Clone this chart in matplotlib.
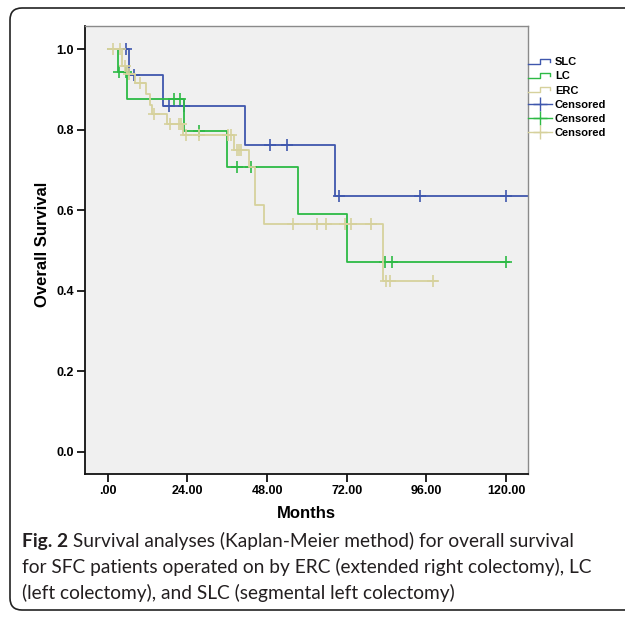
import numpy as np
import matplotlib.pyplot as plt
from matplotlib.lines import Line2D
from matplotlib.legend_handler import HandlerBase
from matplotlib.path import Path
from matplotlib.patches import PathPatch

# --- Kaplan-Meier curves (months, survival) ---
slc_times = [0, 6.4, 16.7, 41.4, 68.5]
slc_surv = [1.0, 0.937, 0.859, 0.763, 0.636]
slc_end = 130
slc_censored = [5.4, 8.0, 18.5, 23.1, 48.9, 54.0, 69.8, 94.2, 120.1]

lc_times = [0, 3.2, 5.9, 23.1, 36.0, 57.2, 72.0]
lc_surv = [1.0, 0.943, 0.877, 0.797, 0.709, 0.590, 0.472]
lc_end = 121
lc_censored = [3.5, 5.4, 20.0, 21.9, 27.4, 38.9, 43.2, 83.4, 85.5, 120.1]

erc_times = [0, 4.2, 5.8, 8.2, 11.5, 12.6, 13.3, 18.0, 22.8, 38.0, 42.7, 44.4, 47.2, 83.0]
erc_surv = [1.0, 0.959, 0.940, 0.916, 0.889, 0.863, 0.840, 0.815, 0.788, 0.750,
            0.709, 0.614, 0.566, 0.425]
erc_end = 99.2
erc_censored = [1.5, 3.7, 5.1, 6.5, 9.8, 13.8, 18.7, 21.4, 22.0, 23.6, 27.4, 36.1,
                37.2, 38.9, 39.6, 40.3, 55.8, 63.0, 65.8, 71.6, 73.3, 79.4, 83.9,
                84.9, 98.1]

x_ticks = [0, 24, 48, 72, 96, 120]
x_tick_labels = ['.00', '24.00', '48.00', '72.00', '96.00', '120.00']
y_ticks = [0.0, 0.2, 0.4, 0.6, 0.8, 1.0]
y_tick_labels = ['0.0', '0.2', '0.4', '0.6', '0.8', '1.0']

groups = ['SLC', 'LC', 'ERC']
colors = ['#3f57ad', '#2dba45', '#d6d19c']

caption_bold = 'Fig. 2'
caption_lines = [
    ' Survival analyses (Kaplan-Meier method) for overall survival',
    'for SFC patients operated on by ERC (extended right colectomy), LC',
    '(left colectomy), and SLC (segmental left colectomy)',
]

W, H = 625, 618


def surv_at(times, surv, t):
    idx = np.searchsorted(times, t, side='right') - 1
    return np.asarray(surv)[idx]


class StepHandler(HandlerBase):
    # little staircase icon used by SPSS for the survival lines
    def create_artists(self, legend, orig_handle, xdescent, ydescent,
                       width, height, fontsize, trans):
        x0 = -xdescent
        lo = -ydescent + height * 0.2
        hi = -ydescent + height * 0.85
        xs = [x0, x0 + width * 0.5, x0 + width * 0.5, x0 + width * 0.92, x0 + width * 0.92]
        ys = [lo, lo, hi, hi, lo + (hi - lo) * 0.35]
        line = Line2D(xs, ys, color=orig_handle.get_color(), lw=1.0, transform=trans)
        return [line]


plt.rcParams['font.family'] = ['Liberation Sans', 'DejaVu Sans']

fig = plt.figure(figsize=(W / 100, H / 100), dpi=100, facecolor='white')

# background layer in pixel coordinates for the frame and caption
bg = fig.add_axes([0, 0, 1, 1], zorder=-1)
bg.set_xlim(0, W)
bg.set_ylim(H, 0)
bg.axis('off')

r = 12
left, top, bottom = 10, 8, 610
verts = [(W + 5, top), (left + r, top), (left, top), (left, top + r),
         (left, bottom - r), (left, bottom), (left + r, bottom), (W + 5, bottom)]
codes = [Path.MOVETO, Path.LINETO, Path.CURVE3, Path.CURVE3,
         Path.LINETO, Path.CURVE3, Path.CURVE3, Path.LINETO]
bg.add_patch(PathPatch(Path(verts, codes), facecolor='none', edgecolor='#222222', lw=1.2))

cap_font = 'Lato'
cap_size = 13.8
t_bold = bg.text(22, 541, caption_bold, fontsize=cap_size, fontweight='bold',
                 family=cap_font, va='center', ha='left', color='#231f20')
fig.canvas.draw()
bb = t_bold.get_window_extent()
bold_w = bb.width
bg.text(22 + bold_w, 541, caption_lines[0], fontsize=cap_size, family=cap_font,
        va='center', ha='left', color='#231f20')
bg.text(22, 567, caption_lines[1], fontsize=cap_size, family=cap_font,
        va='center', ha='left', color='#231f20')
bg.text(22, 593, caption_lines[2], fontsize=cap_size, family=cap_font,
        va='center', ha='left', color='#231f20')

# --- main survival plot ---
ax = fig.add_axes([85.3 / W, 1 - 474 / H, (528.3 - 85.3) / W, (474 - 25.7) / H])
ax.set_facecolor('#f0f0f0')

curves = [
    (slc_times, slc_surv, slc_end, slc_censored),
    (lc_times, lc_surv, lc_end, lc_censored),
    (erc_times, erc_surv, erc_end, erc_censored),
]
line_handles = []
cens_handles = []
for (times, surv, end, cens), name, col in zip(curves, groups, colors):
    xs = list(times) + [end]
    ys = list(surv) + [surv[-1]]
    ln, = ax.step(xs, ys, where='post', color=col, lw=1.3, label=name)
    cy = surv_at(times, surv, cens)
    ax.plot(cens, cy, linestyle='none', marker='+', ms=9, mew=1.2, color=col)
    line_handles.append(ln)
    cens_handles.append(Line2D([], [], color=col, lw=1.0, marker='+', ms=10, mew=1.0))

ax.set_xlim(-6.75, 126.7)
ax.set_ylim(-0.055, 1.059)
ax.set_xticks(x_ticks)
ax.set_xticklabels(x_tick_labels)
ax.set_yticks(y_ticks)
ax.set_yticklabels(y_tick_labels)
ax.tick_params(axis='both', direction='out', length=6, width=1.2, labelsize=9, pad=2)
for lab in ax.get_xticklabels() + ax.get_yticklabels():
    lab.set_fontweight('bold')

for side in ['left', 'bottom']:
    ax.spines[side].set_color('#111111')
    ax.spines[side].set_linewidth(1.3)
for side in ['top', 'right']:
    ax.spines[side].set_color('#8a8a8a')
    ax.spines[side].set_linewidth(1.0)

ax.set_xlabel('Months', fontsize=12, fontweight='bold')
ax.xaxis.set_label_coords(0.5, -0.089)
ax.xaxis.label.set_va('center')
ax.set_ylabel('Overall Survival', fontsize=12, fontweight='bold')
ax.yaxis.set_label_coords(-0.097, 0.513)
ax.yaxis.label.set_va('center')

handles = line_handles + cens_handles
labels = groups + ['Censored'] * 3
handler_map = {h: StepHandler() for h in line_handles}
leg = fig.legend(handles, labels, handler_map=handler_map,
                 loc='upper left', bbox_to_anchor=(526 / W, 1 - 55 / H),
                 frameon=False, prop={'weight': 'bold', 'size': 8},
                 handlelength=2.1, handletextpad=0.3, labelspacing=0.38,
                 borderpad=0.2, borderaxespad=0)

fig.savefig('out.png', dpi=100, facecolor='white')
